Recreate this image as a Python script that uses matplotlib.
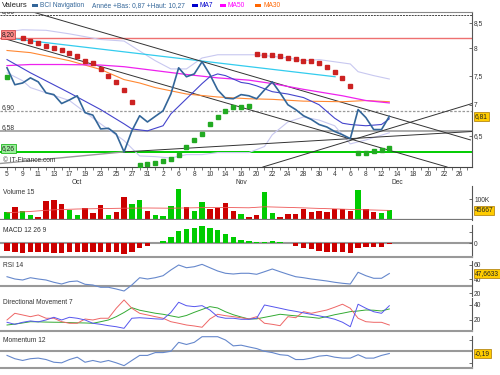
import matplotlib
matplotlib.use('Agg')
import matplotlib.pyplot as plt
import matplotlib.transforms as mtransforms
from matplotlib.patches import Rectangle
from matplotlib.ticker import NullLocator
import numpy as np

plt.rcParams['font.family'] = ['Liberation Sans', 'DejaVu Sans']
FS = 4.8

# ---------------- data ----------------
day_labels = ['5', '9', '11', '13', '17', '19', '23', '25', '27', '31',
              '2', '6', '8', '10', '14', '16', '20', '22', '24', '28', '30',
              '4', '6', '8', '12', '14', '18', '20', '22', '26']
month_labels = ['Oct', 'Nov', 'Dec']
month_label_counts = [10, 11, 9]

close = [7.64, 7.34, 7.37, 7.46, 7.39, 7.20, 7.17, 7.02, 7.08, 7.15,
         6.87, 6.83, 6.61, 6.62, 6.53, 6.26, 6.58, 6.82, 6.72, 6.81,
         6.90, 7.18, 7.64, 7.48, 7.53, 7.75, 7.52, 7.25, 7.11, 7.10,
         7.17, 7.15, 7.10, 7.25, 7.39, 7.20, 7.00, 6.92, 6.82, 6.76,
         6.68, 6.64, 6.57, 6.52, 6.46, 6.92, 6.79, 6.60, 6.60, 6.81]

ma7_idx = [0, 3, 8, 12, 15, 16, 18, 20, 21, 23, 25, 26, 27, 28, 30, 31, 32, 34, 36, 38, 40, 42, 43, 44, 46, 48, 49]
ma7 = [7.79, 7.55, 7.20, 6.92, 6.69, 6.61, 6.58, 6.66, 6.85, 7.10, 7.36, 7.48, 7.53, 7.50, 7.38, 7.36,
       7.32, 7.22, 7.18, 7.12, 7.00, 6.78, 6.70, 6.68, 6.66, 6.68, 6.77]

ma50_idx = [0, 3, 7, 12, 15, 19, 23, 27, 31, 34, 38, 43, 46, 49]
ma50 = [7.68, 7.70, 7.70, 7.69, 7.66, 7.59, 7.52, 7.46, 7.42, 7.36, 7.26, 7.15, 7.07, 7.03]

ma30_idx = [0, 3, 8, 12, 15, 17, 19, 23, 27, 31, 34, 38, 43, 46, 49]
ma30 = [7.96, 7.92, 7.77, 7.61, 7.43, 7.37, 7.29, 7.18, 7.13, 7.10, 7.09, 7.06, 7.05, 7.07, 7.05]

boll_up_idx = [0, 2, 5, 8, 12, 15, 17, 19, 21, 23, 25, 27, 30, 32, 36, 38, 40, 43, 44, 45, 47, 49]
boll_up = [8.32, 8.36, 8.35, 8.28, 8.17, 8.14, 7.95, 7.77, 7.62, 7.62, 7.82, 7.88, 7.88, 7.88,
           7.82, 7.77, 7.79, 7.73, 7.71, 7.57, 7.50, 7.44]
boll_lo_idx = [0, 2, 3, 8, 12, 15, 17, 19, 21, 23, 25, 27, 31, 33, 34, 36, 38, 40, 42, 44, 46, 49]
boll_lo = [7.55, 7.41, 7.29, 7.07, 6.69, 6.43, 6.20, 6.19, 6.17, 6.22, 6.22, 6.25, 6.25, 6.34,
           6.52, 6.72, 6.80, 6.75, 6.66, 6.38, 6.44, 6.55]

# trendlines: (index, value) end points
trend_cyan = [(-0.64, 8.21), (42.05, 7.48)]
trend_dark = [[(3.3, 8.72), (59.4, 6.44)],
              [(-0.64, 8.20), (56.4, 6.04)],
              [(32.8, 6.04), (59.6, 7.02)],
              [(15.0, 6.26), (59.6, 6.57)]]
trend_gray = [[(-0.9, 6.09), (15.0, 6.26)]]

levels = {'top': 8.66, 'red': 8.20, 'dot': 6.90, 'gray': 6.58, 'green': 6.26}
last_close_label = '6,81'
last_close = 6.81

sar_red1_idx = list(range(2, 17))
sar_red1 = [8.20, 8.15, 8.11, 8.05, 8.00, 7.96, 7.91, 7.85, 7.77, 7.73, 7.62, 7.50, 7.38, 7.25, 7.05]
sar_green0_idx = [0]
sar_green0 = [7.48]
sar_green1_idx = list(range(17, 32))
sar_green1 = [6.07, 6.08, 6.10, 6.12, 6.15, 6.21, 6.33, 6.44, 6.53, 6.68, 6.80, 6.90, 6.96, 6.97, 6.98]
sar_red2_idx = list(range(32, 45))
sar_red2 = [7.90, 7.88, 7.87, 7.85, 7.82, 7.80, 7.77, 7.76, 7.73, 7.66, 7.57, 7.45, 7.31]
sar_green2_idx = list(range(45, 50))
sar_green2 = [6.25, 6.25, 6.27, 6.29, 6.32]

volume = [35, 60, 43, 22, 13, 92, 97, 77, 47, 22, 55, 30, 72, 22, 38, 110, 77, 97, 42, 22,
          18, 67, 150, 63, 43, 88, 52, 58, 80, 43, 27, 13, 22, 135, 30, 13, 27, 27, 50, 35,
          42, 38, 52, 50, 43, 147, 50, 35, 30, 45.667]  # thousands
vol_dir = "grggrrrrgg" "rrrgrrggrg" "gggrggrrrr" "gr" "rggrrrrrrrrrrgrrgg"
vol_ma_idx = [0, 3, 6, 9, 12, 15, 18, 21, 24, 27, 31, 33, 36, 40, 44, 49]
vol_ma = [33, 40, 48, 52, 54, 56, 57, 56, 58, 60, 58, 63, 60, 55, 50, 45]
vol_last_label = '45667'

macd_hist = [-0.073, -0.083, -0.093, -0.09, -0.087, -0.09, -0.093, -0.093, -0.083, -0.083,
             -0.083, -0.083, -0.083, -0.083, -0.083, -0.107, -0.083, -0.05, -0.023, 0.007,
             0.027, 0.067, 0.123, 0.14, 0.157, 0.173, 0.157, 0.133, 0.093, 0.06,
             0.033, 0.023, 0.017, 0.017, 0.023, 0.017, 0.007, -0.023, -0.043, -0.06,
             -0.073, -0.083, -0.09, -0.09, -0.093, -0.05, -0.033, -0.033, -0.033, -0.01]

rsi = [43.2, 40, 38.6, 41.8, 40, 38.6, 35.4, 33, 36.3, 37.2,
       32.6, 31.6, 28.4, 28.4, 26, 23.2, 31.6, 41.8, 40, 41.8,
       44.6, 52.6, 59.6, 55.8, 57.2, 60.5, 55.8, 51.2, 48, 47,
       48, 48, 46.6, 50.2, 54, 50.2, 46.6, 43.2, 41.8, 40,
       38.6, 37.2, 35.4, 34, 33, 49.4, 44.6, 41, 41, 47.6633]
rsi_label = '47,6633'

dm_red = [20, 28.9, 26.7, 24.4, 26.7, 22.3, 22.3, 17.7, 15.6, 15.6,
          21.3, 20, 22.3, 22.3, 35.6, 46.7, 35.6, 28.9, 26.7, 24.4,
          22.3, 17.7, 15.6, 13.3, 12, 10.3, 21.3, 27.6, 25.7, 24.4,
          23, 21.3, 24.4, 15.6, 14.2, 12.4, 24.4, 23, 31.1, 28.9,
          31.1, 33.3, 37, 41, 35.6, 22.3, 17.7, 16.9, 16.9, 13.3]
dm_blue = [16.9, 14.2, 16.9, 18.7, 17.5, 20, 23.6, 20, 23.6, 22.3,
           20, 15.6, 14.2, 12.4, 11, 8.9, 22.3, 23, 22.3, 21.5,
           21, 30, 43.6, 39, 37.8, 39.1, 33.3, 24.4, 22.3, 22.3,
           20.9, 20.9, 22.3, 40, 37.8, 35.6, 33.3, 31.5, 29.5, 27.5,
           25.5, 23.5, 21, 17, 11, 41, 35.6, 31, 28.9, 39]
dm_green = [13.3, 14.5, 16, 17.7, 17.5, 17.2, 17, 16.9, 16.5, 16.2,
            16, 15.6, 17.7, 20, 24.4, 30, 36.4, 33, 31, 29,
            27.6, 25.5, 23.5, 26, 30.2, 34, 37.8, 36, 31, 27,
            24, 21.3, 21.5, 23.5, 25.5, 27.6, 26.5, 25.5, 24.4, 23.5,
            22.3, 24.5, 27, 29, 31.1, 32, 33.3, 33, 32, 34.7]

momentum = [-0.35, -0.63, -0.78, -0.63, -0.58, -0.70, -0.93, -0.98, -0.70, -0.50,
            -0.93, -0.78, -0.93, -0.78, -0.98, -1.22, -0.78, -0.35, -0.35, -0.11,
            -0.11, 0.0, 0.76, 0.58, 0.76, 1.24, 1.24, 1.24, 0.96, 0.46,
            0.52, 0.37, 0.23, 0.0, -0.11, -0.29, -0.35, -0.70, -0.70, -0.58,
            -0.41, -0.35, -0.50, -0.58, -0.58, -0.29, -0.58, -0.58, -0.35, -0.19]
mom_label = '-0,19'

# ---------------- figure ----------------
W, H = 500, 375
fig = plt.figure(figsize=(W / 100, H / 100), dpi=100)
fig.patch.set_facecolor('white')

def px_rect(x0, y0, x1, y1):
    return [x0 / W, 1 - y1 / H, (x1 - x0) / W, (y1 - y0) / H]

XL = (-0.9, 59.6)
idx = np.arange(len(close))
GREEN = '#00cc00'
RED = '#cc0000'
AXC = '#555555'
TXT = '#333333'
PANEL = '#999999'
BOX = dict(boxstyle='square,pad=0.15', fc='#ffcc00', ec='#aa7700', lw=0.5)


def style(ax):
    for s in ['left', 'top', 'bottom']:
        ax.spines[s].set_visible(False)
    ax.spines['right'].set_color(AXC)
    ax.spines['right'].set_linewidth(0.8)
    ax.set_xlim(*XL)
    ax.set_xticks([])
    ax.yaxis.tick_right()
    ax.tick_params(axis='y', which='both', direction='in', length=2.5, width=0.6,
                   color=AXC, labelsize=FS, labelcolor=TXT, pad=1.5)
    ax.set_facecolor('none')


def right_box(ax, val, text):
    tr = mtransforms.blended_transform_factory(ax.transAxes, ax.transData)
    ax.text(1.006, val, text, transform=tr, fontsize=FS, color='#222222', va='center',
            ha='left', bbox=BOX, clip_on=False, zorder=10)


def title(ax, yfrac, text):
    ax.text(0.006, yfrac, text, transform=ax.transAxes, fontsize=FS, color=TXT,
            va='center', ha='left')

# ---- main price panel ----
ax = fig.add_axes(px_rect(0, 12, 472, 167))
style(ax)
ax.set_yscale('log')
ax.set_ylim(6.04, 8.72)
ax.set_yticks([6.5, 7, 7.5, 8, 8.5])
ax.set_yticklabels(['6,5', '7', '7,5', '8', '8,5'])
ax.yaxis.set_minor_locator(NullLocator())
ax.spines['bottom'].set_visible(True)
ax.spines['bottom'].set_color('#444444')
ax.spines['bottom'].set_linewidth(0.8)
ax.spines['top'].set_visible(True)
ax.spines['top'].set_color('#888888')
ax.spines['top'].set_linewidth(0.8)
major = np.arange(0, 2 * len(day_labels), 2)
ax.set_xticks(major)
ax.set_xticklabels(day_labels)
ax.set_xticks(np.arange(0, 60), minor=True)
ax.tick_params(axis='x', which='both', direction='out', length=2, width=0.5,
               color='#444444', labelsize=FS, labelcolor=TXT, pad=1)
tr_x = mtransforms.blended_transform_factory(ax.transData, ax.transAxes)
start = 0
for m, c in zip(month_labels, month_label_counts):
    pos = major[start:start + c]
    ax.text((pos[0] + pos[-1]) / 2, -0.097, m, transform=tr_x, fontsize=FS, color=TXT,
            ha='center', va='center')
    start += c

ax.axhline(levels['top'], color='#444444', lw=0.7, ls=(0, (2, 1)))
ax.axhline(levels['red'], color='#ee7070', lw=1.0)
ax.axhline(levels['dot'], color='#999999', lw=0.9, ls=(0, (2, 1.3)))
ax.axhline(levels['gray'], color='#aaaaaa', lw=1.4)
ax.axhline(levels['green'], color=GREEN, lw=1.4)

ax.plot(boll_up_idx, boll_up, color='#c8c8f0', lw=0.8)
ax.plot(boll_lo_idx, boll_lo, color='#c8c8f0', lw=0.8)
(p0, p1) = trend_cyan
ax.plot([p0[0], p1[0]], [p0[1], p1[1]], color='#33ccee', lw=0.9)
for seg in trend_gray:
    ax.plot([seg[0][0], seg[1][0]], [seg[0][1], seg[1][1]], color='#999999', lw=1.0)
for seg in trend_dark:
    ax.plot([seg[0][0], seg[1][0]], [seg[0][1], seg[1][1]], color='#333333', lw=0.7)
ax.plot(ma30_idx, ma30, color='#ff8833', lw=0.8)
ax.plot(ma50_idx, ma50, color='#ee22ee', lw=0.9)
ax.plot(ma7_idx, ma7, color='#4444cc', lw=0.8)
ax.plot(idx, close, color='#336699', lw=1.2)

ms = 2.2
for xi, yv, col in [(sar_red1_idx, sar_red1, '#cc2222'), (sar_red2_idx, sar_red2, '#cc2222'),
                    (sar_green0_idx, sar_green0, '#22aa22'), (sar_green1_idx, sar_green1, '#22aa22'),
                    (sar_green2_idx, sar_green2, '#22aa22')]:
    ax.plot(xi, yv, ls='none', marker='s', ms=ms, color=col, mec=col, zorder=5)

lab_x = XL[0] + 0.2
ax.text(lab_x, levels['top'], '8,66', fontsize=FS, color=TXT, va='bottom', ha='left', clip_on=True)
ax.text(lab_x, levels['red'], '8,20', fontsize=FS, color='#222222', va='bottom', ha='left',
        bbox=dict(boxstyle='square,pad=0.15', fc='#ff8888', ec='#cc3333', lw=0.5))
ax.text(lab_x, levels['dot'], '6,90', fontsize=FS, color=TXT, va='bottom', ha='left')
ax.text(lab_x, levels['gray'], '6,58', fontsize=FS, color=TXT, va='bottom', ha='left')
ax.text(lab_x, levels['green'], '6,26', fontsize=FS, color='#222222', va='bottom', ha='left',
        bbox=dict(boxstyle='square,pad=0.15', fc='#99ee99', ec='#00aa00', lw=0.5))
ax.text(0.006, 0.045, '\u00a9 IT-Finance.com', transform=ax.transAxes, fontsize=FS,
        color=TXT, va='center', ha='left')
right_box(ax, last_close, last_close_label)

# ---- volume ----
axv = fig.add_axes(px_rect(0, 186, 472, 219.5))
style(axv)
vol = np.array(volume) * 1000
cols = [GREEN if d == 'g' else RED for d in vol_dir]
axv.bar(idx, vol, width=0.7, color=cols, linewidth=0)
axv.plot(vol_ma_idx, np.array(vol_ma) * 1000, color='#ee5555', lw=0.6)
axv.axhline(0, color='#777777', lw=1.6)
axv.set_ylim(0, 166000)
axv.set_yticks([100000])
axv.set_yticklabels(['100K'])
title(axv, 0.80, 'Volume 15')
right_box(axv, vol[-1], vol_last_label)

# ---- MACD ----
axm = fig.add_axes(px_rect(0, 225, 472, 257))
style(axm)
mh = np.array(macd_hist)
axm.bar(idx, mh, width=0.7, color=[GREEN if v >= 0 else RED for v in mh], linewidth=0)
axm.axhline(0, color=PANEL, lw=1.5, zorder=0)
axm.spines['bottom'].set_visible(True)
axm.spines['bottom'].set_color(PANEL)
axm.spines['bottom'].set_linewidth(1.5)
axm.set_ylim(-0.137, 0.183)
axm.set_yticks([0, 0.11])
axm.set_yticklabels(['0', ''])
title(axm, 0.84, 'MACD 12 26 9')

# ---- RSI ----
axr = fig.add_axes(px_rect(0, 261, 472, 296))
style(axr)
axr.plot(idx, rsi, color='#6688cc', lw=0.8)
axr.axhline(30, color=PANEL, lw=1.5, zorder=0)
axr.set_ylim(16.2, 65.2)
axr.set_yticks([20, 40, 60])
axr.set_yticklabels(['20', '40', '60'])
title(axr, 0.866, 'RSI 14')
right_box(axr, rsi[-1], rsi_label)

# ---- Directional movement ----
axd = fig.add_axes(px_rect(0, 298, 472, 331))
style(axd)
axd.plot(idx, dm_green, color='#33aa33', lw=0.7)
axd.plot(idx, dm_red, color='#ee6666', lw=0.7)
axd.plot(idx, dm_blue, color='#5555ee', lw=0.7)
axd.spines['bottom'].set_visible(True)
axd.spines['bottom'].set_color(PANEL)
axd.spines['bottom'].set_linewidth(1.5)
axd.set_ylim(5.3, 49.3)
axd.set_yticks([20, 40])
axd.set_yticklabels(['20', '40'])
title(axd, 0.85, 'Directional Movement 7')

# ---- Momentum ----
axo = fig.add_axes(px_rect(0, 336, 472, 368))
style(axo)
axo.plot(idx, momentum, color='#6688cc', lw=0.8)
axo.axhline(0, color=PANEL, lw=1.5, zorder=0)
axo.spines['bottom'].set_visible(True)
axo.spines['bottom'].set_color(PANEL)
axo.spines['bottom'].set_linewidth(1.5)
axo.set_ylim(-1.42, 1.30)
axo.set_yticks([-1, 1])
axo.set_yticklabels(['', ''])
title(axo, 0.875, 'Momentum 12')
right_box(axo, momentum[-1], mom_label)

# ---- header ----
hy = 1 - 5.5 / H
fig.text(2 / W, hy, 'Valeurs', fontsize=5.6, color='#222222', va='center', ha='left')
legend_items = [(32, '#336699', 'BCI Navigation', '#336699'),
                (192, '#0000cc', 'MA7', '#0000cc'),
                (220, '#ff00ff', 'MA50', '#ff00ff'),
                (255, '#ff6600', 'MA30', '#ff6600')]
for x0, c, t, tc in legend_items:
    fig.patches.append(Rectangle((x0 / W, 1 - 6.8 / H), 6 / W, 2.4 / H, transform=fig.transFigure,
                                 facecolor=c, edgecolor='none'))
    fig.text((x0 + 8) / W, hy, t, fontsize=FS, color=tc, va='center', ha='left')
fig.text(92 / W, hy, 'Ann\u00e9e +Bas: 0,87 +Haut: 10,27', fontsize=FS, color='#336699',
         va='center', ha='left')

fig.savefig('out.png', dpi=100, facecolor='white')
